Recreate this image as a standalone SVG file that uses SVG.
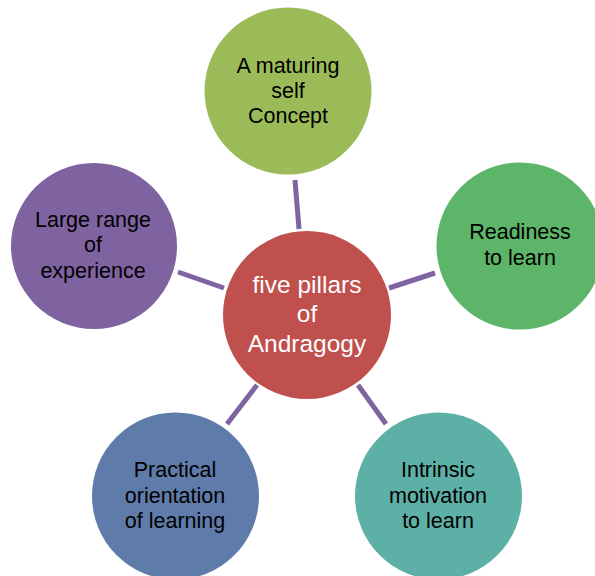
<svg xmlns="http://www.w3.org/2000/svg" width="595" height="576" viewBox="0 0 595 576">
<style>
text{font-family:"Liberation Sans",Arial,sans-serif;text-anchor:middle;fill:#000;font-size:21.5px}
.c text{fill:#fff;font-size:24.5px}
.conn line{stroke:#8064A2;stroke-width:5}
</style>
<rect width="595" height="576" fill="#fff"/>
<g class="conn">
<line x1="295" y1="180" x2="299" y2="229"/>
<line x1="178" y1="272" x2="224" y2="288"/>
<line x1="389" y1="288" x2="435" y2="273"/>
<line x1="257" y1="385" x2="227" y2="424"/>
<line x1="358" y1="385" x2="386" y2="424"/>
</g>
<g id="top"><circle cx="288" cy="91" r="83.5" fill="#9BBB59"/>
<text x="288" y="73">A maturing</text><text x="288" y="98">self</text><text x="288" y="123">Concept</text></g>
<g id="right"><circle cx="520" cy="246" r="83.5" fill="#5CB569"/>
<text x="520" y="239">Readiness</text><text x="520" y="265">to learn</text></g>
<g id="bottomright"><circle cx="438.5" cy="496" r="83.5" fill="#5DB0A5"/>
<text x="438" y="477">Intrinsic</text><text x="438" y="503">motivation</text><text x="438" y="528">to learn</text></g>
<g id="bottomleft"><circle cx="175.5" cy="496" r="83.5" fill="#5F7BAA"/>
<text x="175" y="477">Practical</text><text x="175" y="503">orientation</text><text x="175" y="528">of learning</text></g>
<g id="left"><circle cx="94" cy="246" r="83" fill="#7F63A1"/>
<text x="93" y="227">Large range</text><text x="93" y="252">of</text><text x="93" y="278">experience</text></g>
<g id="center" class="c"><circle cx="307" cy="315" r="84" fill="#C0504D"/>
<text x="307" y="293">five pillars</text><text x="307" y="322">of</text><text x="307" y="352">Andragogy</text></g>
</svg>
